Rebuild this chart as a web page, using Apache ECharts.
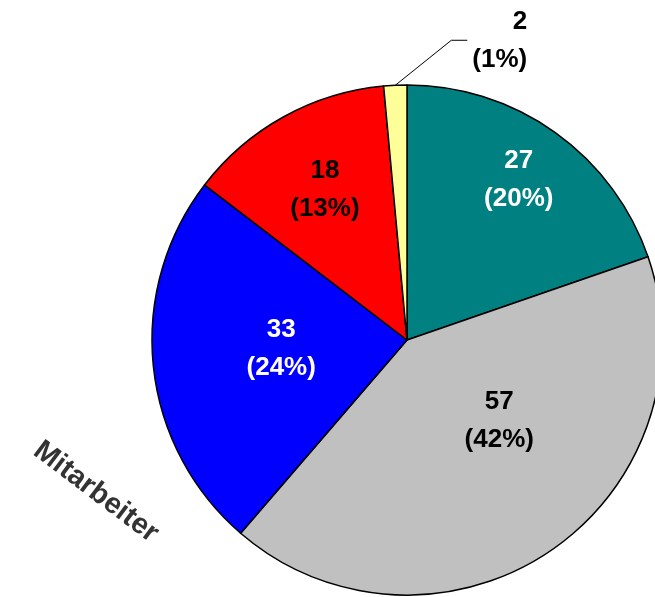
<!DOCTYPE html>
<html><head><meta charset="utf-8">
<script src="https://cdn.jsdelivr.net/npm/echarts@6/dist/echarts.min.js"></script>
<style>html,body{margin:0;padding:0;background:#fff}#c{width:655px;height:597px}</style>
</head><body><div id="c"></div>
<script>
const categories = ['A', 'B', 'C', 'D', 'E'];
const values = [27, 57, 33, 18, 2];
const colors = ['#008080', '#C0C0C0', '#0000FF', '#FF0000', '#FFFF99'];
const labelColors = ['#fff', '#000', '#fff', '#000', '#000'];
const axisTitle = 'Mitarbeiter';

const labelOffsets = [[36, -54], [19, -27], [4, -5], [-19, -36], null];

const chart = echarts.init(document.getElementById('c'));
chart.setOption({
  animation: false,
  graphic: [{
    type: 'text', x: 96, y: 492,
    rotation: -37 * Math.PI / 180,
    style: { text: axisTitle, font: 'bold 29px "Liberation Sans", Arial', fill: '#333', align: 'center', verticalAlign: 'middle' }
  }],
  series: [{
    type: 'pie',
    center: [407, 340],
    radius: 255,
    startAngle: 90,
    percentPrecision: 0,
    itemStyle: { borderColor: '#000', borderWidth: 1.5 },
    label: {
      position: 'inside',
      formatter: '{c}\n({d}%)',
      fontFamily: '"Liberation Sans", Arial',
      fontWeight: 'bold',
      fontSize: 26,
      lineHeight: 38
    },
    labelLayout: function (p) {
      const o = labelOffsets[p.dataIndex];
      if (o) return { dx: o[0], dy: o[1] };
      const e = p.labelLinePoints ? p.labelLinePoints[0] : null;
      if (!e) return {};
      const mid = [e[0] + 56, e[1] - 45];
      const end = [e[0] + 72, e[1] - 45];
      const r = p.labelRect;
      return {
        dx: end[0] + 5 - r.x,
        dy: end[1] + 1 - (r.y + r.height / 2),
        labelLinePoints: [e, mid, end]
      };
    },
    data: values.map((v, i) => ({
      name: categories[i], value: v,
      itemStyle: { color: colors[i] },
      label: i === 4 ? { position: 'outside', color: '#000', align: 'center' } : { color: labelColors[i] },
      labelLine: i === 4 ? { show: true, length: 20, length2: 15, lineStyle: { color: '#000', width: 1 } } : { show: false }
    })),
    emphasis: { disabled: true }
  }]
});
</script></body></html>
